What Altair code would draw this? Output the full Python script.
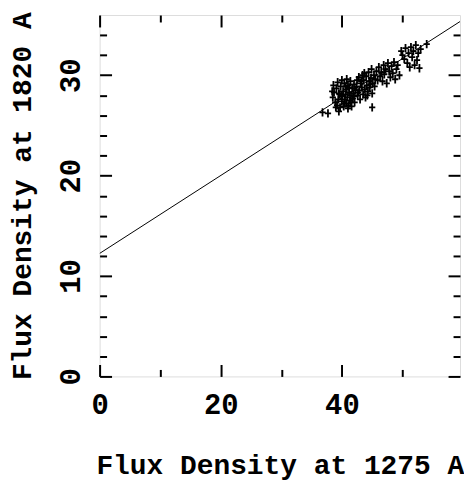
import altair as alt
import pandas as pd

# Observed points (flux density at 1275 A, flux density at 1820 A)
x_vals = [
    36.8, 37.7, 39.5, 45.0,
    38.5, 38.7, 38.9, 39.1, 39.2, 39.4, 39.6, 39.7, 39.8, 40.0, 40.1, 40.2, 40.3, 40.4,
    40.5, 40.6, 40.7, 40.8, 40.9, 41.0, 41.1, 41.2, 41.3, 41.4, 41.5, 41.6, 41.7, 41.8,
    41.9, 42.0, 42.1, 42.2, 38.6, 39.3, 40.0, 39.0, 41.0, 40.4, 40.8, 39.9, 41.5, 40.6,
    38.4, 39.5, 41.2, 42.0,
    42.4, 42.5, 42.6, 42.8, 42.9, 43.0, 43.1, 43.3, 43.4, 43.5, 43.6, 43.8, 43.9, 44.0,
    44.1, 44.3, 44.4, 44.5, 44.6, 44.8, 44.9, 45.0, 45.1, 45.3, 45.4, 45.5, 42.7, 43.7,
    44.2, 43.2, 44.7,
    45.7, 45.9, 46.1, 46.3, 46.5, 46.7, 46.9, 47.0, 47.2, 47.4, 47.6, 47.8, 48.0, 48.2,
    48.4, 48.6, 48.8, 49.0, 49.2, 49.5,
    49.8, 50.0, 50.3, 50.5, 50.8, 51.0, 51.2, 51.4, 51.6, 51.8, 52.0, 52.2, 52.4, 52.6,
    52.8, 53.0, 54.0,
]
y_vals = [
    26.3, 26.2, 26.4, 26.8,
    27.8, 28.3, 27.3, 28.7, 27.0, 27.6, 28.1, 26.8, 28.9, 27.4, 27.9, 28.4, 26.9, 29.2,
    27.6, 28.1, 27.2, 28.6, 27.8, 29.0, 27.0, 28.3, 27.5, 29.4, 28.0, 26.9, 28.7, 27.7,
    28.2, 29.1, 27.3, 28.5, 29.0, 29.3, 29.5, 26.8, 26.7, 27.2, 29.6, 28.0, 27.3, 28.9,
    28.4, 28.2, 28.8, 27.9,
    28.9, 29.5, 28.0, 29.8, 28.5, 27.6, 29.2, 28.8, 30.0, 28.1, 29.5, 28.6, 27.8, 29.9,
    29.0, 28.4, 30.3, 29.4, 28.8, 29.7, 30.6, 28.2, 29.2, 30.0, 28.9, 29.6, 28.3, 30.2,
    28.0, 29.4, 29.1,
    30.4, 29.5, 30.8, 29.9, 30.3, 29.4, 31.0, 30.1, 30.6, 29.2, 31.2, 30.4, 29.8, 30.9,
    30.2, 31.3, 29.6, 30.6, 31.0, 30.0,
    32.4, 32.0, 31.6, 32.7, 31.2, 32.2, 30.8, 32.8, 31.8, 32.4, 31.0, 33.0, 31.5, 32.2,
    30.7, 32.6, 33.1,
]

# Fitted straight line (end points)
line_x = [0, 59.5]
line_y = [12.25, 35.35]

x_major = [0, 20, 40]
x_minor = [10, 30, 50]
y_major = [0, 10, 20, 30]
y_minor = [2, 4, 6, 8, 12, 14, 16, 18, 22, 24, 26, 28, 32, 34]

pts = pd.DataFrame({"x": x_vals, "y": y_vals})
ln = pd.DataFrame({"x": line_x, "y": line_y})

FONT = "Liberation Mono"
MAJ = 12
MIN = 7

xs = alt.Scale(domain=[0, 59.5], nice=False, zero=False)
ys = alt.Scale(domain=[0, 36], nice=False, zero=False)


def tick_axis(orient, values, L):
    return alt.Axis(orient=orient, values=values, tickSize=L, offset=-L,
                    labels=False, domain=False, grid=False, title=None,
                    tickWidth=2, tickColor="black")


x_label_axis = alt.Axis(
    orient="bottom", values=x_major, ticks=False, domain=False, grid=False,
    labelFont=FONT, labelFontSize=29, labelFontWeight="bold", labelColor="black",
    labelPadding=14, labelFlush=False, labelOverlap=False,
    title="Flux Density at 1275 A", titleFont=FONT, titleFontSize=28,
    titleFontWeight="bold", titleColor="black", titleY=89, titleBaseline="middle",
)
y_label_axis = alt.Axis(
    orient="left", values=y_major, ticks=False, domain=False, grid=False,
    labelFont=FONT, labelFontSize=29, labelFontWeight="bold", labelColor="black",
    labelAngle=-90, labelAlign="center", labelBaseline="bottom",
    labelPadding=14, labelFlush=False, labelOverlap=False,
    title="Flux Density at 1820 A", titleFont=FONT, titleFontSize=28,
    titleFontWeight="bold", titleColor="black", titleX=-77, titleBaseline="middle",
)

line = alt.Chart(ln).mark_line(color="black", strokeWidth=1, clip=True).encode(
    x=alt.X("x:Q", scale=xs, axis=x_label_axis),
    y=alt.Y("y:Q", scale=ys, axis=y_label_axis),
)

cross = "M-0.75,0L0.75,0M0,-1L0,1"
points = alt.Chart(pts).mark_point(shape=cross, size=70, filled=False, opacity=1,
                                   stroke="black", strokeWidth=1.8).encode(
    x=alt.X("x:Q", scale=xs, axis=tick_axis("bottom", x_major, MAJ)),
    y=alt.Y("y:Q", scale=ys, axis=tick_axis("left", y_major, MAJ)),
)


def ghost(xo, xv, xl, yo, yv, yl):
    return alt.Chart(pts).mark_point(opacity=0).encode(
        x=alt.X("x:Q", scale=xs, axis=tick_axis(xo, xv, xl)),
        y=alt.Y("y:Q", scale=ys, axis=tick_axis(yo, yv, yl)),
    )


g1 = ghost("bottom", x_minor, MIN, "left", y_minor, MIN)
g2 = ghost("top", x_major, MAJ, "right", y_major, MAJ)
g3 = ghost("top", x_minor, MIN, "right", y_minor, MIN)

chart = alt.layer(line, points, g1, g2, g3).resolve_axis(
    x="independent", y="independent"
).properties(
    width=362, height=363,
    padding={"left": 92, "top": 6, "right": 4, "bottom": 106},
    autosize=alt.AutoSizeParams(type="none"),
).configure_view(stroke="black", strokeWidth=2.5).configure(background="white")

chart.save("out.html", embed_options={"renderer": "svg", "actions": False})
